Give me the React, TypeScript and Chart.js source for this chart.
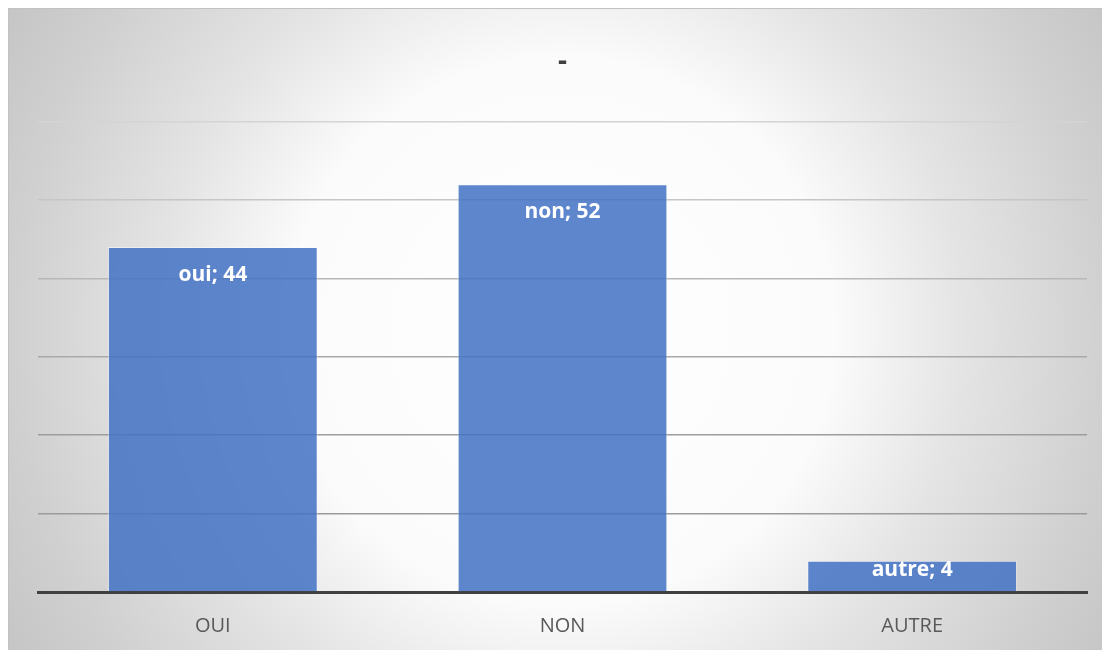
import React, { useEffect, useRef } from "react";
import { Chart, registerables, Plugin } from "chart.js";

Chart.register(...registerables);

// Answers per category
const categories: string[] = ["OUI", "NON", "AUTRE"];
const seriesNames: string[] = ["oui", "non", "autre"];
const values: number[] = [44, 52, 4];

// Value axis range
const yMin = 0;
const yMax = 60;
const yStep = 10;

// Gridline shades, from the baseline upwards
const gridShades: string[] = [
  "rgba(0,0,0,0)",
  "#9b9b9b",
  "#9d9d9d",
  "#a9a9a9",
  "#b8b8b8",
  "#c6c6c6",
  "#d4d4d4",
];

const FONT = "'Open Sans', 'DejaVu Sans', sans-serif";

// Writes "name; value" inside the top end of each bar
const barLabels: Plugin<"bar"> = {
  id: "barLabels",
  afterDatasetsDraw(chart) {
    const { ctx } = chart;
    const meta = chart.getDatasetMeta(0);
    ctx.save();
    ctx.font = `bold 21px ${FONT}`;
    ctx.fillStyle = "#ffffff";
    ctx.textAlign = "center";
    ctx.textBaseline = "alphabetic";
    meta.data.forEach((el: any, i: number) => {
      const top = el.y as number;
      const base = el.base as number;
      const textTop = Math.min(top + 19, base - 30);
      ctx.fillText(`${seriesNames[i]}; ${values[i]}`, el.x, textTop + 15);
    });
    ctx.restore();
  },
};

export default function App() {
  const canvasRef = useRef<HTMLCanvasElement | null>(null);

  useEffect(() => {
    if (!canvasRef.current) return;
    const chart = new Chart(canvasRef.current, {
      type: "bar",
      data: {
        labels: categories,
        datasets: [
          {
            label: "-",
            data: values,
            backgroundColor: "rgba(68,114,196,0.86)",
            borderColor: "rgba(255,255,255,0.45)",
            borderWidth: 1,
            barPercentage: 0.6,
            categoryPercentage: 1,
          },
        ],
      },
      options: {
        responsive: false,
        animation: false,
        layout: { padding: { left: 29, right: 23, top: 0, bottom: -10 } },
        plugins: {
          legend: { display: false },
          tooltip: { enabled: false },
          title: {
            display: true,
            text: "-",
            color: "#404040",
            font: { family: FONT, size: 28, weight: "bold", lineHeight: 1.2 },
            padding: { top: 36, bottom: 43 },
          },
        },
        scales: {
          x: {
            grid: { display: false, drawTicks: false },
            border: { display: true, color: "#404040", width: 3 },
            ticks: {
              color: "#595959",
              font: { family: FONT, size: 20 },
              padding: 22,
            },
          },
          y: {
            min: yMin,
            max: yMax,
            ticks: { display: false, stepSize: yStep },
            border: { display: false },
            grid: {
              drawTicks: false,
              lineWidth: 1.5,
              color: (ctx: any) => gridShades[ctx.index] ?? "#c0c0c0",
            },
          },
        },
      },
      plugins: [barLabels],
    });
    return () => chart.destroy();
  }, []);

  return (
    <div
      style={{
        width: 1101,
        height: 641,
        borderTop: "1px solid #c2c2c2",
        borderLeft: "1px solid #c2c2c2",
        background:
          "radial-gradient(circle 650px at 552px 322px, #ffffff 0%, #fbfbfb 42%, #e4e4e4 62%, #d0d0d0 84%, #c4c4c4 100%)",
      }}
    >
      <canvas ref={canvasRef} width={1101} height={641} style={{ display: "block" }} />
    </div>
  );
}
